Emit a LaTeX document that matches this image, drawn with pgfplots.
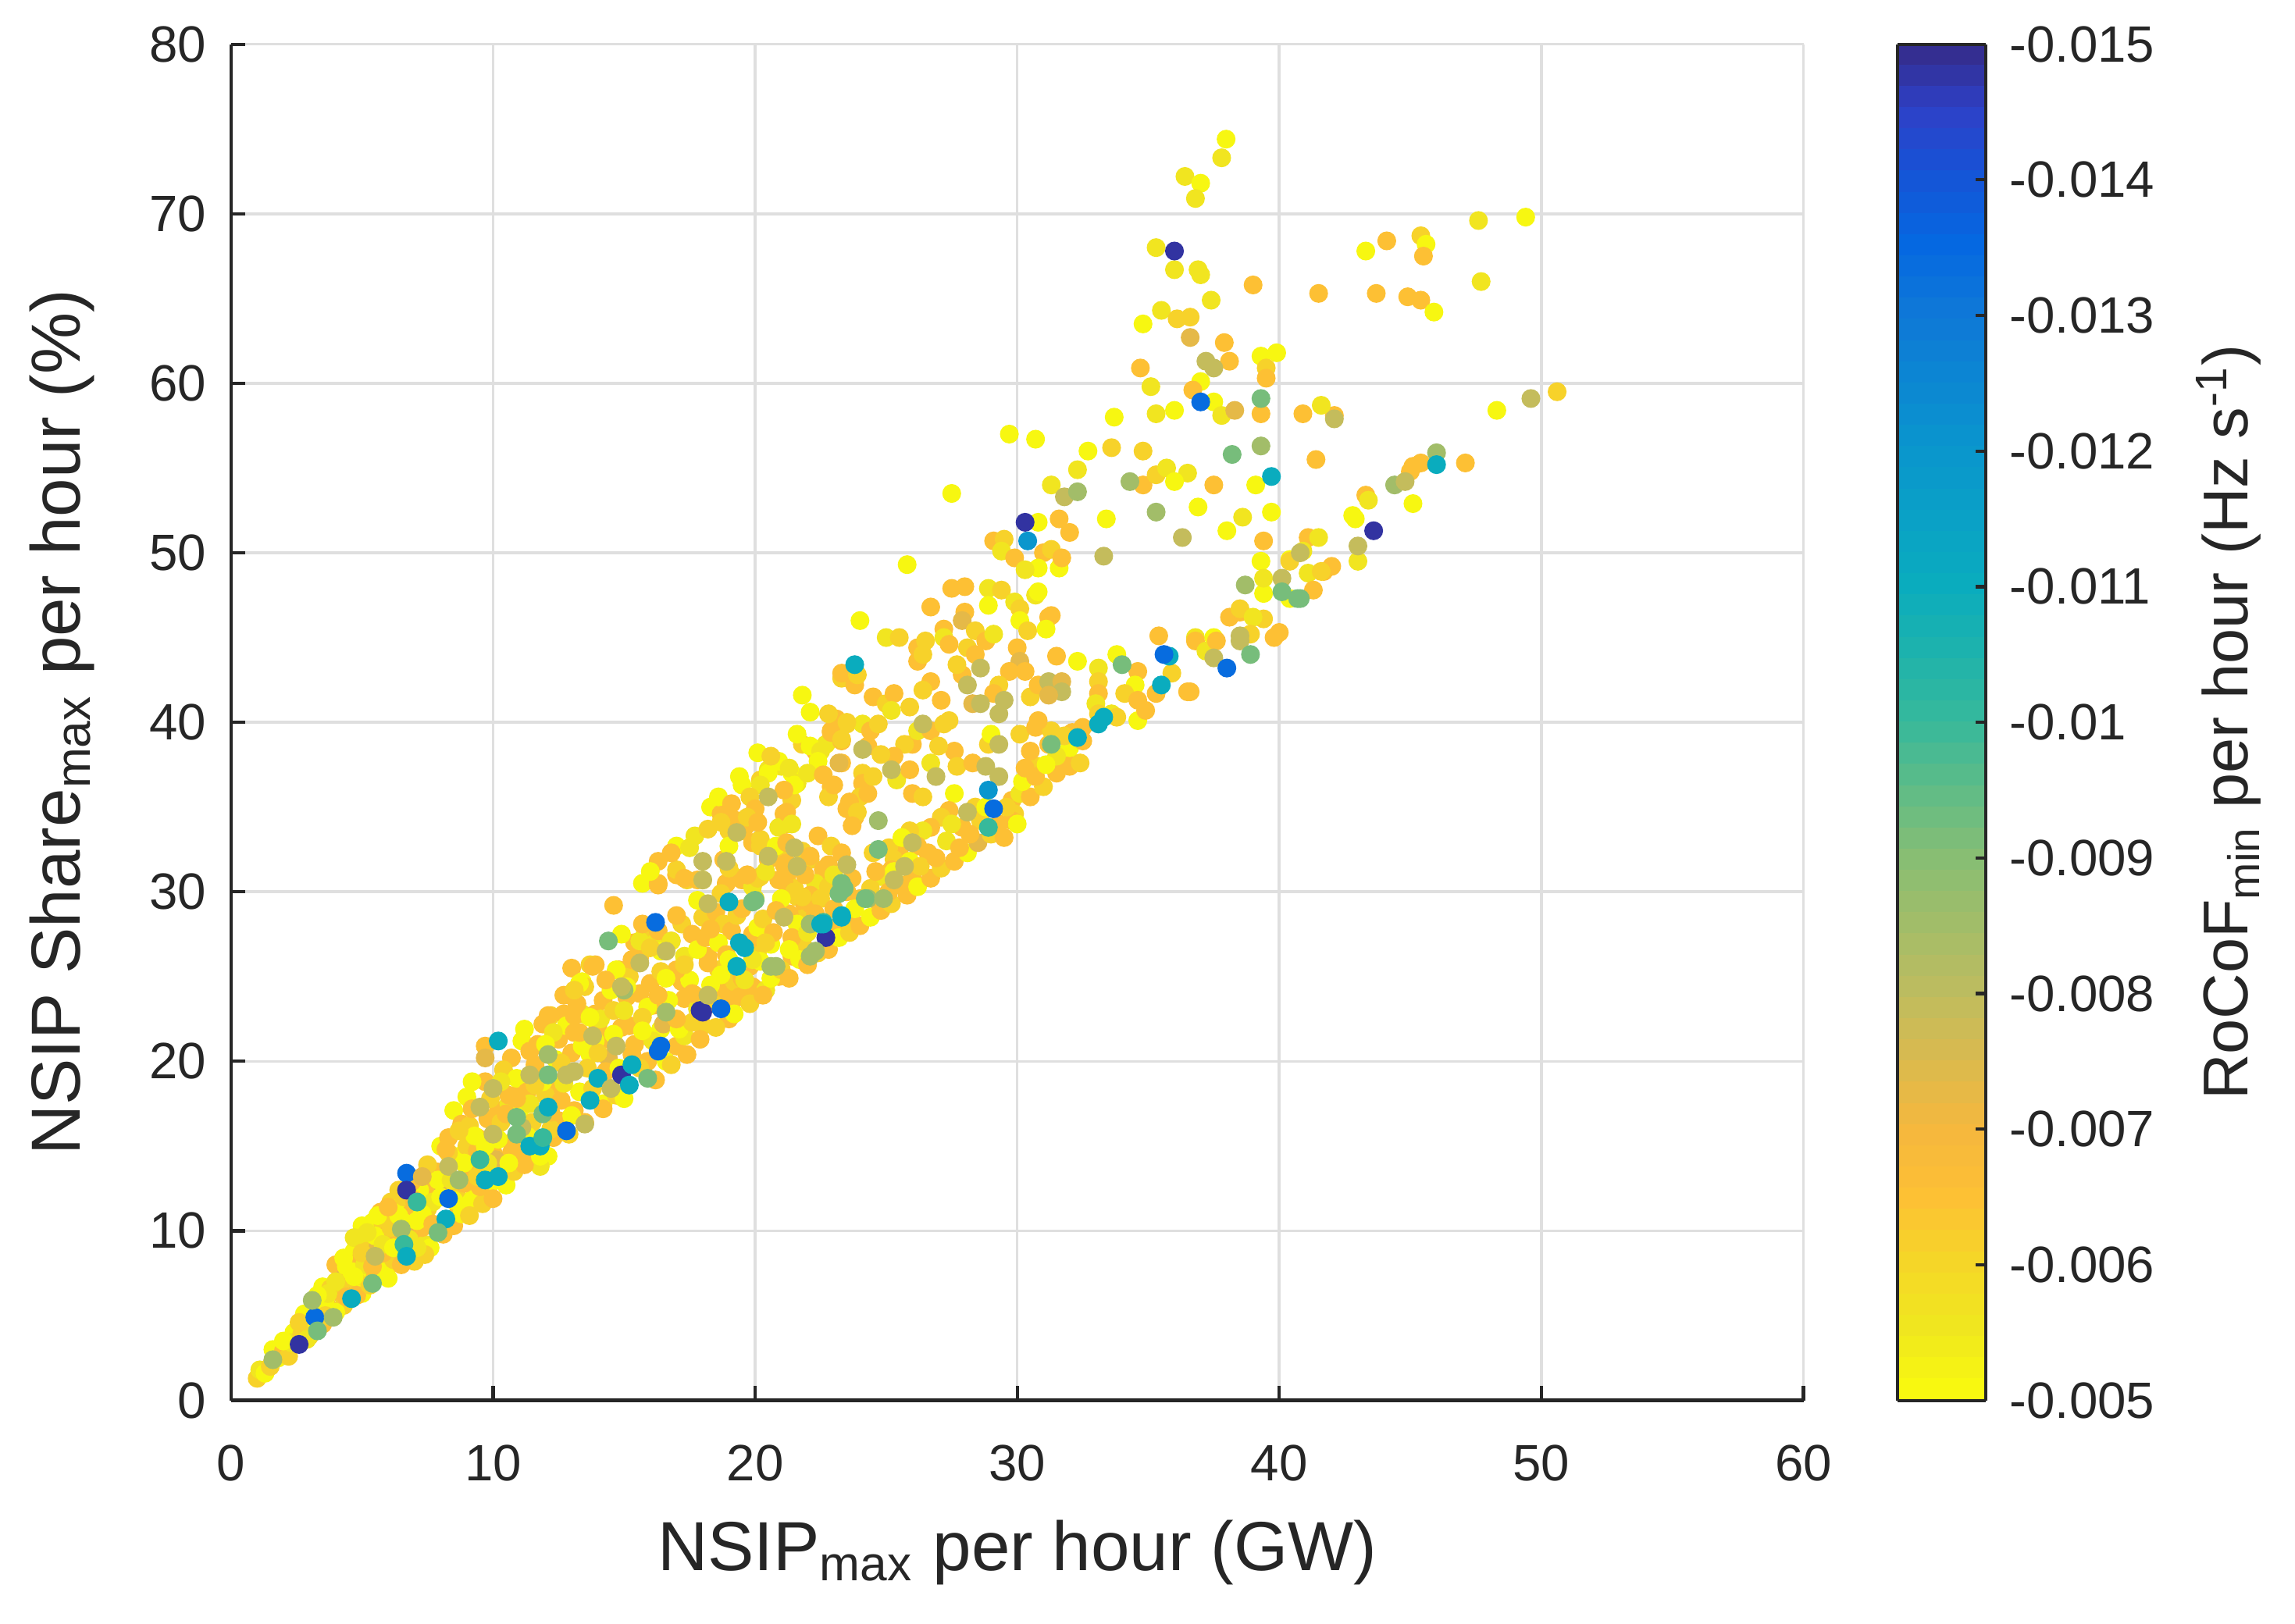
\documentclass[border=0pt]{standalone}
\usepackage{pgfplots}
\usepackage{pgfplotstable}
\pgfplotsset{compat=1.18}
\usepackage{fontspec}
\setmainfont{Liberation Sans}
\definecolor{axdark}{RGB}{38,38,38}
\definecolor{gridgray}{RGB}{223,223,223}
\pgfplotsset{colormap={parula}{rgb255=(53,42,135) rgb255=(45,65,200) rgb255=(20,85,215) rgb255=(5,105,225) rgb255=(15,120,215) rgb255=(12,135,210) rgb255=(10,150,205) rgb255=(10,161,198) rgb255=(10,172,190) rgb255=(30,179,172) rgb255=(55,185,155) rgb255=(95,188,135) rgb255=(135,190,115) rgb255=(162,189,105) rgb255=(190,188,95) rgb255=(218,186,78) rgb255=(245,183,62) rgb255=(253,192,52) rgb255=(245,215,40) rgb255=(240,232,30) rgb255=(249,251,14)}}
\pgfplotstableread{
x y c
37.97 74.4 -0.0051
37.8 73.3 -0.0056
36.4 72.2 -0.0056
37.0 71.8 -0.0051
36.8 70.9 -0.0056
35.3 68.0 -0.0056
36.0 66.7 -0.0056
36.9 66.7 -0.0056
37.0 66.4 -0.0056
39.0 65.8 -0.0065
37.4 64.9 -0.0056
35.5 64.3 -0.0056
34.8 63.5 -0.0051
36.1 63.8 -0.0061
36.6 63.9 -0.0061
36.6 62.7 -0.0073
37.9 62.4 -0.0065
38.1 61.3 -0.0065
39.3 61.6 -0.0051
39.9 61.8 -0.0051
39.5 60.9 -0.0061
39.5 60.3 -0.0065
34.7 60.9 -0.0065
35.1 59.8 -0.0056
37.0 60.1 -0.0051
36.7 59.6 -0.0065
37.5 58.9 -0.0051
37.8 58.1 -0.0056
39.3 58.2 -0.0065
33.7 58.0 -0.0051
35.3 58.2 -0.0056
36.0 58.4 -0.0051
30.7 56.7 -0.0051
32.7 56.0 -0.0051
33.6 56.2 -0.0061
34.8 56.0 -0.0061
32.3 54.9 -0.0056
31.3 54.0 -0.0056
34.8 54.0 -0.0065
35.3 54.6 -0.0061
35.7 55.0 -0.0056
36.5 54.7 -0.0056
36.0 54.2 -0.0051
37.5 54.0 -0.0065
39.1 54.0 -0.0051
41.4 55.5 -0.0065
36.9 52.7 -0.0051
38.6 52.1 -0.0056
38.0 51.3 -0.0051
39.7 52.4 -0.0051
33.4 52.0 -0.0051
30.8 51.8 -0.0051
31.6 52.0 -0.0065
32.0 51.2 -0.0065
31.0 50.0 -0.0065
31.6 49.1 -0.0051
30.7 47.5 -0.0056
31.2 46.2 -0.0065
39.3 49.5 -0.0051
39.4 50.7 -0.0065
40.4 49.6 -0.0051
41.1 50.9 -0.0065
41.1 48.8 -0.0056
41.7 48.9 -0.0065
41.3 47.8 -0.0065
39.4 47.6 -0.0051
38.5 46.5 -0.0065
39.4 46.1 -0.0061
39.8 45.0 -0.0065
35.4 45.1 -0.0065
36.8 45.0 -0.0056
37.5 45.0 -0.0051
42.9 52.0 -0.0051
43.0 49.5 -0.0056
43.3 53.4 -0.0065
45.1 52.9 -0.0051
45.1 55.1 -0.0065
45.4 55.3 -0.0065
47.1 55.3 -0.0065
48.3 58.4 -0.0051
50.6 59.5 -0.0061
43.3 67.8 -0.0051
44.1 68.4 -0.0065
45.4 68.7 -0.0061
45.6 68.2 -0.0051
45.5 67.5 -0.0065
47.6 69.6 -0.0056
49.4 69.8 -0.0051
47.7 66.0 -0.0056
41.5 65.3 -0.0065
43.7 65.3 -0.0065
44.9 65.1 -0.0065
45.4 64.9 -0.0065
45.9 64.2 -0.0051
42.1 58.1 -0.0065
41.6 58.7 -0.0056
40.9 58.2 -0.0065
40.0 45.3 -0.0065
42.0 49.2 -0.0065
41.5 50.9 -0.0056
42.8 52.2 -0.0051
43.4 53.1 -0.0056
45.0 54.8 -0.0065
29.7 57.0 -0.0051
27.5 53.5 -0.0051
29.1 50.7 -0.0065
29.5 50.8 -0.0061
29.4 50.1 -0.0056
29.9 49.7 -0.0065
31.3 50.2 -0.0061
31.7 49.7 -0.0065
30.8 49.1 -0.0051
30.3 49.0 -0.0056
25.8 49.3 -0.0051
27.5 47.9 -0.0065
28.0 48.0 -0.0065
28.9 47.9 -0.0056
29.4 47.8 -0.0061
30.8 47.7 -0.0051
26.7 46.8 -0.0065
28.0 46.5 -0.0065
27.9 46.0 -0.0073
28.9 46.9 -0.0051
29.9 47.1 -0.0056
30.1 46.7 -0.0061
31.3 46.3 -0.0065
24.0 46.0 -0.0051
27.2 45.5 -0.0065
28.4 45.4 -0.0061
28.8 44.8 -0.0065
29.1 45.2 -0.0056
30.1 46.0 -0.0051
30.4 45.4 -0.0061
31.1 45.5 -0.0051
25.0 45.0 -0.0056
25.5 45.0 -0.0061
26.2 44.4 -0.0065
26.5 44.8 -0.0061
26.2 43.6 -0.0065
27.2 45.0 -0.0056
27.4 44.6 -0.0065
28.1 44.4 -0.0061
28.4 44.0 -0.0065
30.0 44.4 -0.0065
30.1 43.6 -0.0073
29.7 43.0 -0.0065
30.3 43.0 -0.0065
27.9 42.8 -0.0065
27.7 43.4 -0.0061
26.4 44.0 -0.0061
26.7 42.4 -0.0065
26.4 41.9 -0.0061
29.3 42.2 -0.0061
29.1 41.7 -0.0065
23.6 42.8 -0.0065
23.3 42.6 -0.0061
23.8 42.2 -0.0065
21.8 41.6 -0.0051
22.1 40.6 -0.0051
24.5 41.5 -0.0065
25.0 41.1 -0.0061
25.3 41.7 -0.0065
25.2 40.7 -0.0056
25.9 40.9 -0.0061
27.1 41.3 -0.0065
27.4 40.1 -0.0061
30.5 41.5 -0.0061
30.8 42.2 -0.0065
31.5 43.9 -0.0065
32.3 43.6 -0.0051
33.1 43.2 -0.0056
33.1 42.4 -0.0061
33.1 41.7 -0.0065
33.0 41.1 -0.0056
33.1 40.5 -0.0061
33.8 44.0 -0.0051
34.6 43.0 -0.0065
34.5 42.2 -0.0051
34.1 41.7 -0.0061
34.6 41.3 -0.0065
35.9 42.9 -0.0061
36.5 41.8 -0.0065
36.8 44.8 -0.0065
37.2 44.2 -0.0056
37.6 44.8 -0.0065
38.1 46.2 -0.0065
38.5 46.7 -0.0061
39.0 46.2 -0.0056
38.9 45.2 -0.0061
39.4 48.5 -0.0056
40.4 49.5 -0.0061
40.9 50.1 -0.0056
41.6 48.9 -0.0061
40.4 47.3 -0.0051
20.1 38.2 -0.0051
21.0 37.4 -0.0056
21.4 37.0 -0.0051
21.6 36.4 -0.0056
21.8 38.7 -0.0061
22.3 38.3 -0.0065
22.7 38.7 -0.0056
22.9 39.5 -0.0065
23.5 39.9 -0.0061
23.3 38.9 -0.0065
24.1 39.9 -0.0056
24.4 39.5 -0.0065
24.7 39.9 -0.0061
23.3 37.6 -0.0065
24.1 37.0 -0.0061
24.1 36.4 -0.0065
26.0 38.7 -0.0065
26.2 39.5 -0.0056
25.7 38.7 -0.0061
25.3 38.0 -0.0065
25.4 36.6 -0.0056
26.0 35.8 -0.0065
26.4 35.6 -0.0061
26.7 39.5 -0.0065
27.2 39.9 -0.0061
27.6 38.3 -0.0065
27.7 37.4 -0.0061
28.3 37.6 -0.0065
28.9 38.7 -0.0061
27.6 35.8 -0.0051
29.0 39.3 -0.0051
30.1 39.3 -0.0061
30.7 39.7 -0.0065
29.8 35.4 -0.0065
30.1 35.8 -0.0056
29.9 34.6 -0.0061
29.8 34.2 -0.0065
30.8 37.4 -0.0061
30.5 38.3 -0.0065
31.2 38.7 -0.0065
31.3 39.5 -0.0061
30.8 40.1 -0.0065
31.9 38.0 -0.0065
32.0 37.4 -0.0065
32.4 37.6 -0.0061
32.5 39.7 -0.0065
33.6 40.5 -0.0056
33.8 40.3 -0.0061
34.6 40.1 -0.0051
34.9 40.7 -0.0065
35.3 41.7 -0.0065
36.6 41.8 -0.0065
27.4 34.8 -0.0065
28.4 35.0 -0.0061
27.9 33.8 -0.0065
27.1 34.4 -0.0061
26.7 33.8 -0.0065
26.4 33.6 -0.0056
26.2 32.7 -0.0065
25.9 33.6 -0.0061
25.5 32.3 -0.0065
25.3 31.9 -0.0061
25.2 31.3 -0.0065
24.8 30.9 -0.0056
23.8 34.4 -0.0065
24.0 35.6 -0.0061
24.3 35.8 -0.0065
24.5 36.8 -0.0061
22.9 36.2 -0.0065
22.8 35.6 -0.0061
23.5 34.9 -0.0065
22.4 33.3 -0.0065
22.9 32.7 -0.0061
23.3 32.3 -0.0065
22.1 31.9 -0.0061
22.6 31.3 -0.0065
22.3 30.5 -0.0056
23.3 30.1 -0.0065
24.7 29.4 -0.0061
21.2 30.9 -0.0065
21.6 29.7 -0.0061
21.9 29.2 -0.0065
21.8 28.4 -0.0061
20.0 29.6 -0.0056
20.5 31.9 -0.0065
20.9 32.1 -0.0061
21.2 31.7 -0.0065
18.8 31.9 -0.0065
19.2 30.9 -0.0061
19.5 30.7 -0.0065
19.9 30.3 -0.0056
20.2 30.9 -0.0061
19.2 34.2 -0.0065
19.5 33.6 -0.0061
19.9 32.9 -0.0065
20.2 33.1 -0.0061
21.1 34.6 -0.0065
21.4 35.4 -0.0061
21.2 34.0 -0.0065
20.9 33.8 -0.0056
18.3 35.0 -0.0051
18.7 34.6 -0.0065
19.0 33.6 -0.0061
19.3 34.2 -0.0065
20.2 36.6 -0.0061
20.5 37.2 -0.0056
23.3 42.9 -0.0065
23.9 42.8 -0.0061
23.1 40.2 -0.0065
23.5 40.0 -0.0061
22.9 39.4 -0.0065
23.3 39.0 -0.0061
22.1 38.6 -0.0051
22.5 38.3 -0.0056
22.4 37.7 -0.0051
23.2 37.6 -0.0073
23.0 36.3 -0.0065
23.6 35.3 -0.0065
23.9 34.7 -0.0061
23.7 33.9 -0.0065
20.9 37.7 -0.0051
21.3 37.3 -0.0056
21.5 36.3 -0.0051
20.5 37.0 -0.0051
20.2 36.3 -0.0056
19.5 36.3 -0.0051
19.8 35.6 -0.0061
20.0 34.9 -0.0065
21.2 34.7 -0.0065
21.4 34.0 -0.0056
18.7 34.1 -0.0061
19.6 33.8 -0.0065
19.7 34.4 -0.0061
20.1 34.1 -0.0065
19.0 32.7 -0.0051
20.2 32.7 -0.0061
20.8 32.7 -0.0051
21.2 32.9 -0.0065
21.8 32.4 -0.0061
22.1 32.1 -0.0065
22.8 31.6 -0.0065
17.0 32.7 -0.0051
17.5 32.6 -0.0056
16.3 31.8 -0.0065
17.0 31.0 -0.0065
17.4 30.7 -0.0061
17.8 30.7 -0.0065
15.7 30.5 -0.0051
16.3 30.5 -0.0065
18.9 30.5 -0.0061
19.7 31.0 -0.0065
20.1 30.8 -0.0061
20.9 30.7 -0.0065
21.5 30.2 -0.0061
21.9 31.0 -0.0065
21.1 31.6 -0.0065
24.0 29.6 -0.0065
14.6 29.2 -0.0065
13.0 25.5 -0.0065
13.9 25.7 -0.0065
13.4 24.7 -0.0051
13.7 25.7 -0.0061
14.8 25.4 -0.0065
15.2 25.0 -0.0061
15.4 27.0 -0.0065
15.8 27.8 -0.0061
15.6 26.2 -0.0065
16.2 27.0 -0.0056
16.8 27.1 -0.0065
17.2 28.1 -0.0061
17.6 27.5 -0.0065
18.0 28.5 -0.0061
18.5 28.8 -0.0065
18.8 28.1 -0.0061
19.1 27.7 -0.0065
19.9 27.5 -0.0065
20.1 26.5 -0.0061
19.8 25.6 -0.0065
21.4 26.2 -0.0065
21.8 27.0 -0.0061
23.1 27.9 -0.0065
23.6 28.5 -0.0065
20.9 25.0 -0.0065
20.4 24.2 -0.0065
17.2 24.7 -0.0065
17.7 23.9 -0.0061
18.8 24.2 -0.0065
19.2 24.7 -0.0061
19.7 23.9 -0.0065
20.1 24.2 -0.0061
18.2 26.2 -0.0065
18.6 25.4 -0.0061
12.7 23.9 -0.0065
13.5 24.4 -0.0061
14.2 23.6 -0.0065
12.2 22.7 -0.0061
12.7 22.8 -0.0065
13.4 22.8 -0.0056
13.9 22.8 -0.0065
1.0 1.3 -0.0061
1.1 1.8 -0.0056
1.6 3.0 -0.0051
2.1 3.2 -0.0065
2.4 4.0 -0.0051
2.8 5.1 -0.0051
3.7 5.5 -0.0061
3.5 6.7 -0.0051
4.2 7.4 -0.0065
4.0 8.0 -0.0065
4.3 7.2 -0.0073
5.2 7.6 -0.0051
4.7 8.8 -0.0051
5.0 9.4 -0.0056
5.9 8.0 -0.0065
5.7 9.6 -0.0065
5.4 10.5 -0.0051
5.7 11.1 -0.0065
6.1 11.7 -0.0061
6.2 10.7 -0.0051
7.1 9.6 -0.0065
6.9 8.8 -0.0051
7.4 9.2 -0.0056
5.0 10.3 -0.0051
4.7 9.6 -0.0056
7.6 12.8 -0.0065
7.8 12.1 -0.0065
8.7 11.3 -0.0065
9.0 11.7 -0.0051
8.0 15.0 -0.0051
8.3 15.5 -0.0065
8.7 14.4 -0.0051
9.0 15.0 -0.0061
9.6 13.4 -0.0051
10.4 13.8 -0.0061
10.7 14.6 -0.0065
10.0 14.6 -0.0065
9.4 15.5 -0.0065
10.7 15.2 -0.0065
12.1 14.4 -0.0051
11.8 13.8 -0.0056
11.2 14.6 -0.0065
12.5 16.5 -0.0065
13.1 17.1 -0.0065
9.0 17.9 -0.0051
8.5 17.1 -0.0051
8.8 16.3 -0.0065
9.7 18.8 -0.0065
9.2 18.8 -0.0051
10.2 17.1 -0.0065
10.6 17.5 -0.0056
9.7 20.9 -0.0065
10.7 20.2 -0.0065
11.2 21.9 -0.0051
11.1 18.6 -0.0065
12.5 18.6 -0.0065
12.5 21.3 -0.0065
12.8 22.1 -0.0051
13.1 21.7 -0.0065
14.2 17.5 -0.0051
15.9 20.0 -0.0065
16.6 20.0 -0.0051
17.0 20.9 -0.0065
17.3 21.5 -0.0056
18.0 22.1 -0.0061
19.0 22.5 -0.0065
19.4 23.8 -0.0065
19.9 24.4 -0.0065
20.4 24.2 -0.0056
19.9 27.3 -0.0065
20.6 26.9 -0.0051
20.1 27.9 -0.0051
21.3 28.7 -0.0065
21.6 28.1 -0.0051
22.1 29.3 -0.0065
25.6 30.4 -0.0065
25.3 31.2 -0.0051
20.2 25.9 -0.0051
18.2 25.8 -0.0065
17.5 24.8 -0.0051
17.0 25.4 -0.0065
14.9 27.5 -0.0051
15.6 27.1 -0.0056
15.7 28.1 -0.0065
16.3 27.7 -0.0065
16.4 26.5 -0.0051
16.8 27.1 -0.0056
13.8 25.6 -0.0065
13.3 24.6 -0.0051
14.7 25.4 -0.0051
15.1 23.8 -0.0065
14.5 24.2 -0.0051
15.6 24.0 -0.0065
16.1 23.3 -0.0065
17.3 23.7 -0.0065
17.8 23.1 -0.0056
18.7 25.1 -0.0051
11.9 22.2 -0.0065
13.7 20.4 -0.0051
11.1 21.2 -0.0051
11.4 20.6 -0.0065
12.1 22.7 -0.0065
13.1 22.7 -0.0065
14.0 22.1 -0.0065
14.4 21.3 -0.0065
15.9 21.5 -0.0051
15.2 22.1 -0.0065
16.4 21.9 -0.0051
16.3 30.4 -0.0065
17.0 31.3 -0.0061
17.3 30.8 -0.0065
18.0 30.7 -0.0056
18.9 30.5 -0.0065
19.0 31.4 -0.0061
19.7 31.0 -0.0065
20.4 31.2 -0.0056
21.1 30.6 -0.0065
21.5 30.0 -0.0061
22.1 29.8 -0.0065
22.8 30.3 -0.0061
23.5 30.0 -0.0065
24.4 30.2 -0.0061
26.0 30.8 -0.0065
1.3 1.6 -0.0051
1.5 2.0 -0.0061
1.8 2.5 -0.0051
2.0 2.9 -0.0065
2.2 2.6 -0.0061
2.5 3.8 -0.0051
2.8 4.3 -0.0065
3.0 4.6 -0.0051
3.0 3.8 -0.0061
3.4 5.2 -0.0065
3.6 6.0 -0.0051
3.8 6.6 -0.0061
3.9 5.1 -0.0051
4.1 6.4 -0.0065
4.3 5.6 -0.0061
4.4 7.9 -0.0051
4.5 6.8 -0.0073
4.8 7.0 -0.0061
4.9 8.2 -0.0065
5.0 6.3 -0.0051
5.2 8.8 -0.0061
5.3 10.0 -0.0051
5.5 7.3 -0.0065
5.6 9.0 -0.0073
5.8 10.4 -0.0061
5.9 7.6 -0.0051
6.0 9.8 -0.0065
6.2 8.3 -0.0061
6.3 11.3 -0.0051
6.4 9.4 -0.0065
6.6 12.0 -0.0061
6.8 10.4 -0.0073
6.9 11.1 -0.0065
7.0 8.2 -0.0061
7.2 12.4 -0.0051
7.3 10.2 -0.0065
7.5 11.3 -0.0061
7.6 9.0 -0.0051
7.8 13.5 -0.0065
8.0 10.1 -0.0061
8.1 12.6 -0.0073
8.4 14.3 -0.0051
8.5 10.3 -0.0065
8.6 12.4 -0.0061
8.8 11.0 -0.0051
9.0 13.8 -0.0065
9.1 16.2 -0.0061
9.3 12.1 -0.0051
9.4 14.7 -0.0065
9.6 11.6 -0.0061
9.8 16.6 -0.0065
9.9 12.8 -0.0051
10.1 14.2 -0.0073
10.3 16.4 -0.0061
10.5 12.7 -0.0051
10.6 18.0 -0.0065
10.8 13.5 -0.0061
11.0 17.0 -0.0051
11.2 13.9 -0.0065
11.5 16.4 -0.0061
11.6 19.8 -0.0065
11.8 14.4 -0.0051
12.0 18.0 -0.0061
12.3 15.5 -0.0065
12.4 20.1 -0.0051
12.6 17.7 -0.0065
12.9 15.7 -0.0061
13.0 20.5 -0.0065
13.3 18.2 -0.0051
13.5 16.4 -0.0065
13.6 19.6 -0.0061
13.9 21.2 -0.0051
14.2 17.2 -0.0065
14.4 20.2 -0.0073
14.7 18.0 -0.0061
14.9 22.0 -0.0065
15.0 17.8 -0.0051
15.4 21.0 -0.0065
15.6 19.6 -0.0061
15.9 23.2 -0.0051
16.2 18.9 -0.0065
16.5 22.2 -0.0073
16.8 19.8 -0.0061
17.1 21.9 -0.0051
17.4 20.4 -0.0065
17.6 22.3 -0.0061
17.9 21.3 -0.0065
18.3 24.5 -0.0051
18.5 22.0 -0.0061
18.9 23.5 -0.0065
19.2 22.8 -0.0051
19.5 24.9 -0.0065
19.8 23.4 -0.0061
20.3 23.9 -0.0065
20.6 24.9 -0.0051
21.0 25.4 -0.0061
21.3 24.9 -0.0065
21.7 26.0 -0.0051
22.0 25.7 -0.0065
22.4 26.4 -0.0061
22.8 26.6 -0.0065
23.2 27.3 -0.0051
23.6 27.6 -0.0061
24.0 28.0 -0.0065
24.4 28.5 -0.0051
24.8 28.9 -0.0065
25.2 29.3 -0.0061
25.8 29.8 -0.0065
26.2 30.3 -0.0051
26.7 30.8 -0.0065
27.1 31.4 -0.0061
27.6 31.8 -0.0065
28.1 32.3 -0.0051
28.5 32.9 -0.0073
29.0 33.4 -0.0061
29.5 33.2 -0.0065
30.0 34.0 -0.0051
30.5 35.6 -0.0065
31.0 36.2 -0.0061
31.5 37.0 -0.0065
32.0 38.5 -0.0051
32.5 38.9 -0.0065
2.3 3.4 -0.0056
2.7 3.9 -0.0061
3.2 5.6 -0.0051
3.5 4.5 -0.0065
3.7 6.3 -0.0056
4.0 5.2 -0.0051
4.2 6.9 -0.0061
4.6 7.6 -0.0051
4.8 6.2 -0.0065
5.1 8.0 -0.0056
5.3 6.8 -0.0061
5.5 9.7 -0.0051
5.8 8.7 -0.0065
6.0 7.2 -0.0051
6.1 10.2 -0.0061
6.4 10.9 -0.0051
6.5 8.0 -0.0065
6.8 9.5 -0.0056
7.0 11.8 -0.0065
7.1 10.6 -0.0051
7.4 8.6 -0.0061
7.7 11.7 -0.0056
7.9 13.0 -0.0051
8.1 9.8 -0.0065
8.3 14.6 -0.0061
8.5 11.8 -0.0051
8.9 12.8 -0.0065
9.1 10.9 -0.0061
9.3 15.6 -0.0051
9.5 12.6 -0.0065
9.8 14.0 -0.0056
10.0 11.9 -0.0065
10.2 15.4 -0.0051
10.4 19.5 -0.0061
10.5 16.9 -0.0065
10.9 19.0 -0.0051
11.3 18.2 -0.0065
11.4 17.5 -0.0056
11.7 21.0 -0.0065
11.9 18.8 -0.0051
12.2 16.0 -0.0061
12.3 21.7 -0.0056
12.6 19.9 -0.0061
13.0 16.8 -0.0051
13.2 23.4 -0.0065
13.4 20.9 -0.0051
13.8 18.4 -0.0061
14.1 22.5 -0.0056
14.3 19.4 -0.0065
14.6 23.0 -0.0061
14.8 19.6 -0.0051
15.1 24.4 -0.0051
15.3 20.4 -0.0065
15.7 22.6 -0.0061
16.0 24.6 -0.0065
16.1 21.2 -0.0056
16.4 25.3 -0.0061
16.7 23.6 -0.0051
17.0 22.5 -0.0065
17.3 26.2 -0.0056
17.6 24.0 -0.0065
17.8 26.6 -0.0051
18.1 27.3 -0.0065
18.4 23.4 -0.0061
18.6 27.0 -0.0051
18.9 26.3 -0.0065
19.3 28.6 -0.0061
19.6 24.8 -0.0056
20.3 28.4 -0.0061
20.7 27.6 -0.0065
21.0 29.6 -0.0051
21.4 27.3 -0.0065
22.0 27.6 -0.0056
22.5 29.6 -0.0061
23.0 29.0 -0.0065
23.8 29.0 -0.0051
24.6 31.2 -0.0065
25.1 32.6 -0.0061
25.9 31.8 -0.0051
26.6 32.3 -0.0065
27.3 33.0 -0.0056
27.8 32.6 -0.0065
28.6 34.2 -0.0061
29.3 34.0 -0.0065
30.2 36.5 -0.0051
30.7 36.8 -0.0065
31.5 38.0 -0.0056
32.1 39.4 -0.0065
16.0 31.2 -0.0051
16.8 32.3 -0.0065
17.7 33.3 -0.0056
18.2 33.7 -0.0061
18.6 35.6 -0.0051
19.1 35.2 -0.0065
19.4 36.8 -0.0051
20.6 38.0 -0.0061
21.1 36.0 -0.0065
22.0 37.0 -0.0056
22.6 36.9 -0.0065
21.6 39.3 -0.0051
22.8 40.5 -0.0061
24.3 38.6 -0.0065
24.8 38.1 -0.0061
25.9 37.2 -0.0065
26.7 37.6 -0.0056
27.0 38.6 -0.0061
2.0 3.5 -0.0051
2.6 4.6 -0.0061
2.9 3.6 -0.0056
3.3 6.2 -0.0051
3.6 5.0 -0.0061
4.0 7.0 -0.0056
4.3 8.4 -0.0051
4.4 6.1 -0.0065
4.7 7.3 -0.0051
5.0 8.7 -0.0061
5.2 9.9 -0.0056
5.4 7.9 -0.0065
5.6 10.9 -0.0051
5.8 9.2 -0.0056
6.0 11.4 -0.0065
6.2 9.0 -0.0051
6.4 12.4 -0.0061
6.6 10.5 -0.0051
6.9 12.9 -0.0065
7.1 9.0 -0.0056
7.3 11.0 -0.0051
7.5 13.9 -0.0061
7.7 10.4 -0.0065
8.0 12.0 -0.0051
8.2 14.8 -0.0065
8.4 13.0 -0.0056
8.7 15.9 -0.0061
8.9 14.0 -0.0051
9.2 17.2 -0.0065
9.4 13.2 -0.0061
9.7 15.0 -0.0051
9.9 17.8 -0.0061
10.3 18.8 -0.0056
10.6 14.0 -0.0051
10.9 17.8 -0.0065
11.3 15.6 -0.0051
11.6 18.6 -0.0061
12.0 21.0 -0.0051
12.2 17.0 -0.0065
12.7 18.7 -0.0056
13.1 24.2 -0.0061
13.3 21.7 -0.0065
13.7 22.6 -0.0051
14.0 20.5 -0.0061
14.3 24.8 -0.0065
14.6 21.6 -0.0051
15.0 23.0 -0.0056
15.3 26.0 -0.0065
15.7 21.8 -0.0051
16.0 26.7 -0.0061
16.3 23.9 -0.0065
16.6 24.9 -0.0051
17.0 28.6 -0.0065
17.3 25.7 -0.0061
17.8 29.5 -0.0051
18.3 27.8 -0.0065
18.7 29.9 -0.0061
19.0 26.0 -0.0051
19.5 29.0 -0.0065
19.9 26.0 -0.0056
20.4 27.0 -0.0061
20.8 28.9 -0.0065
21.3 26.6 -0.0051
21.8 29.7 -0.0061
22.3 28.7 -0.0065
23.0 31.0 -0.0056
23.7 30.8 -0.0065
24.5 32.3 -0.0061
25.1 30.0 -0.0065
25.6 33.2 -0.0051
26.3 31.5 -0.0061
26.9 32.0 -0.0065
27.5 34.0 -0.0056
28.2 33.4 -0.0065
28.8 35.0 -0.0051
29.6 35.0 -0.0061
30.3 37.3 -0.0065
31.1 37.5 -0.0051
31.8 39.2 -0.0061
}\warm
\pgfplotstableread{
x y c
36.0 67.8 -0.0148
37.2 61.3 -0.0079
37.5 60.9 -0.0079
37.0 58.9 -0.0134
38.3 58.4 -0.0073
39.3 59.1 -0.0092
31.8 53.3 -0.0079
32.3 53.6 -0.0085
34.3 54.2 -0.0085
38.2 55.8 -0.0092
39.3 56.3 -0.0085
39.7 54.5 -0.0110
35.3 52.4 -0.0085
36.3 50.9 -0.0079
33.3 49.8 -0.0079
30.3 51.8 -0.0148
30.4 50.7 -0.0120
40.8 50.0 -0.0079
38.7 48.1 -0.0085
40.1 48.5 -0.0079
40.1 47.7 -0.0092
40.7 47.3 -0.0092
38.5 45.1 -0.0079
43.6 51.3 -0.0148
43.0 50.4 -0.0079
44.4 54.0 -0.0085
44.8 54.2 -0.0079
46.0 55.9 -0.0085
46.0 55.2 -0.0110
49.6 59.1 -0.0079
42.1 57.9 -0.0079
23.8 43.4 -0.0110
26.4 39.9 -0.0079
28.6 43.2 -0.0079
28.1 42.2 -0.0079
28.3 41.1 -0.0073
28.6 41.1 -0.0079
29.5 41.3 -0.0079
29.3 40.5 -0.0079
31.2 42.4 -0.0079
31.7 42.4 -0.0073
31.7 41.8 -0.0079
31.2 41.6 -0.0073
34.0 43.4 -0.0092
35.8 43.9 -0.0110
35.5 42.2 -0.0110
37.5 43.8 -0.0079
38.0 43.2 -0.0134
38.5 44.8 -0.0079
38.9 44.0 -0.0092
40.8 47.3 -0.0092
24.1 38.4 -0.0079
25.2 37.2 -0.0079
26.9 36.8 -0.0079
28.8 37.4 -0.0079
29.3 38.7 -0.0079
29.3 36.8 -0.0079
28.9 36.0 -0.0120
29.1 34.9 -0.0134
28.9 33.8 -0.0100
31.3 38.7 -0.0092
32.3 39.1 -0.0110
33.1 39.9 -0.0110
33.3 40.3 -0.0110
28.1 34.7 -0.0079
26.0 32.9 -0.0079
25.7 31.5 -0.0079
24.7 32.5 -0.0092
24.7 34.2 -0.0085
23.3 30.5 -0.0092
24.3 29.6 -0.0085
25.3 30.7 -0.0079
23.3 28.6 -0.0110
22.6 28.2 -0.0100
22.7 27.3 -0.0148
19.9 29.4 -0.0092
19.0 29.4 -0.0110
21.6 31.5 -0.0079
20.5 35.6 -0.0079
19.3 33.5 -0.0079
20.5 32.1 -0.0079
21.5 32.6 -0.0079
23.5 31.6 -0.0079
18.0 31.8 -0.0079
18.9 31.8 -0.0079
18.0 30.7 -0.0079
23.2 29.9 -0.0092
16.2 28.2 -0.0134
14.4 27.1 -0.0092
15.0 24.2 -0.0085
18.2 29.3 -0.0079
20.0 29.5 -0.0092
19.4 27.0 -0.0110
19.3 25.6 -0.0110
20.6 25.6 -0.0085
21.1 28.5 -0.0079
22.1 28.1 -0.0085
22.5 28.1 -0.0110
23.3 28.5 -0.0110
22.1 26.2 -0.0085
17.9 23.0 -0.0148
18.7 23.1 -0.0134
1.6 2.4 -0.0085
2.6 3.3 -0.0148
3.2 4.9 -0.0134
3.3 4.1 -0.0092
3.1 5.9 -0.0085
3.9 4.9 -0.0085
4.6 6.0 -0.0110
5.4 6.9 -0.0092
5.5 8.5 -0.0079
6.5 10.1 -0.0085
6.6 9.2 -0.0100
6.7 8.5 -0.0110
6.7 13.4 -0.0134
6.7 12.4 -0.0148
7.1 11.7 -0.0100
7.3 13.2 -0.0073
8.3 11.9 -0.0134
8.2 10.7 -0.0110
7.9 9.9 -0.0092
8.3 13.8 -0.0079
8.7 13.0 -0.0085
9.5 14.2 -0.0100
9.7 13.0 -0.0110
10.2 13.2 -0.0110
10.0 15.7 -0.0079
11.1 16.1 -0.0079
10.9 15.7 -0.0092
11.4 15.0 -0.0110
11.8 15.0 -0.0110
11.9 15.5 -0.0100
11.9 16.9 -0.0092
12.1 17.3 -0.0110
12.8 15.9 -0.0134
13.5 16.3 -0.0079
9.5 17.3 -0.0079
10.0 18.4 -0.0079
9.7 20.2 -0.0073
10.2 21.2 -0.0110
10.9 16.7 -0.0092
11.4 19.2 -0.0079
12.1 19.2 -0.0092
12.8 19.2 -0.0079
13.1 19.4 -0.0079
12.1 20.4 -0.0085
13.8 21.5 -0.0079
14.0 19.0 -0.0110
13.7 17.7 -0.0110
14.5 18.4 -0.0079
14.9 19.2 -0.0148
15.3 19.8 -0.0110
15.2 18.6 -0.0110
15.9 19.0 -0.0092
16.3 20.6 -0.0134
16.4 20.9 -0.0134
18.0 22.9 -0.0148
20.8 25.6 -0.0085
19.6 26.7 -0.0110
22.3 26.5 -0.0085
22.6 28.1 -0.0110
24.2 29.6 -0.0092
24.9 29.6 -0.0085
23.4 30.2 -0.0092
16.6 26.5 -0.0079
14.9 24.4 -0.0079
15.6 25.8 -0.0079
16.6 22.9 -0.0085
18.2 23.9 -0.0079
14.7 20.9 -0.0079
35.6 44.0 -0.0134
}\cool
\begin{document}
\begin{tikzpicture}
\begin{axis}[
  scale only axis,
  width=384.8pt, height=331.9pt,
  xmin=0, xmax=60, ymin=0, ymax=80,
  xtick={0,10,...,60}, ytick={0,10,...,80},
  axis x line*=bottom, axis y line*=left,
  axis line style={-, line width=0.8pt, draw=axdark},
  every outer x axis line/.append style={-},
  every outer y axis line/.append style={-},
  tick align=inside,
  major tick length=3.5pt,
  tick style={line width=0.8pt, draw=axdark},
  grid=major,
  grid style={line width=0.7pt, draw=gridgray},
  /pgf/number format/assume math mode=true,
  ticklabel style={font=\fontsize{12.5}{15}\selectfont, text=axdark},
  xticklabel style={yshift=-7.5pt},
  yticklabel style={xshift=-2.5pt},
  xlabel={NSIP\textsubscript{max} per hour (GW)},
  ylabel={NSIP Share\textsubscript{max} per hour (\%)},
  label style={font=\fontsize{17}{20}\selectfont, text=axdark},
  xlabel style={at={(axis description cs:0.5,-0.112)}, anchor=center},
  ylabel style={at={(axis description cs:-0.1076,0.5)}, anchor=center},
  colormap name=parula,
  point meta min=-0.015, point meta max=-0.005,
  colorbar sampled,
  colorbar style={
    samples=65,
    at={(parent axis.north east)}, anchor=north west, xshift=14.5pt,
    scale only axis, width=21.6pt,
    y dir=reverse,
    scaled y ticks=false,
    ytick={-0.015,-0.014,-0.013,-0.012,-0.011,-0.010,-0.009,-0.008,-0.007,-0.006,-0.005},
    yticklabels={-0.015,-0.014,-0.013,-0.012,-0.011,-0.01,-0.009,-0.008,-0.007,-0.006,-0.005},
    ytick pos=right, yticklabel pos=right,
    tick align=inside, major tick length=2.5pt,
    tick style={line width=0.8pt, draw=axdark},
    axis line style={line width=0.8pt, draw=axdark},
    axis on top,
    yticklabel style={font=\fontsize{12.5}{15}\selectfont, text=axdark, xshift=2.3pt},
    ylabel={RoCoF\textsubscript{min} per hour (Hz s\textsuperscript{-1})},
    ylabel style={font=\fontsize{15.5}{18}\selectfont, text=axdark, at={(axis description cs:3.75,0.5)}, anchor=center},
  },
]
\addplot[scatter, only marks, scatter src=explicit, mark=*, mark size=2.1pt,
  scatter/use mapped color={draw=mapped color, fill=mapped color}] table[x=x, y=y, meta=c] {\warm};
\addplot[scatter, only marks, scatter src=explicit, mark=*, mark size=2.1pt,
  scatter/use mapped color={draw=mapped color, fill=mapped color}] table[x=x, y=y, meta=c] {\cool};
\end{axis}
\pgfresetboundingbox
\path[use as bounding box] (-56.52pt,-54.72pt) rectangle (505.08pt,342.72pt);
\end{tikzpicture}
\end{document}
